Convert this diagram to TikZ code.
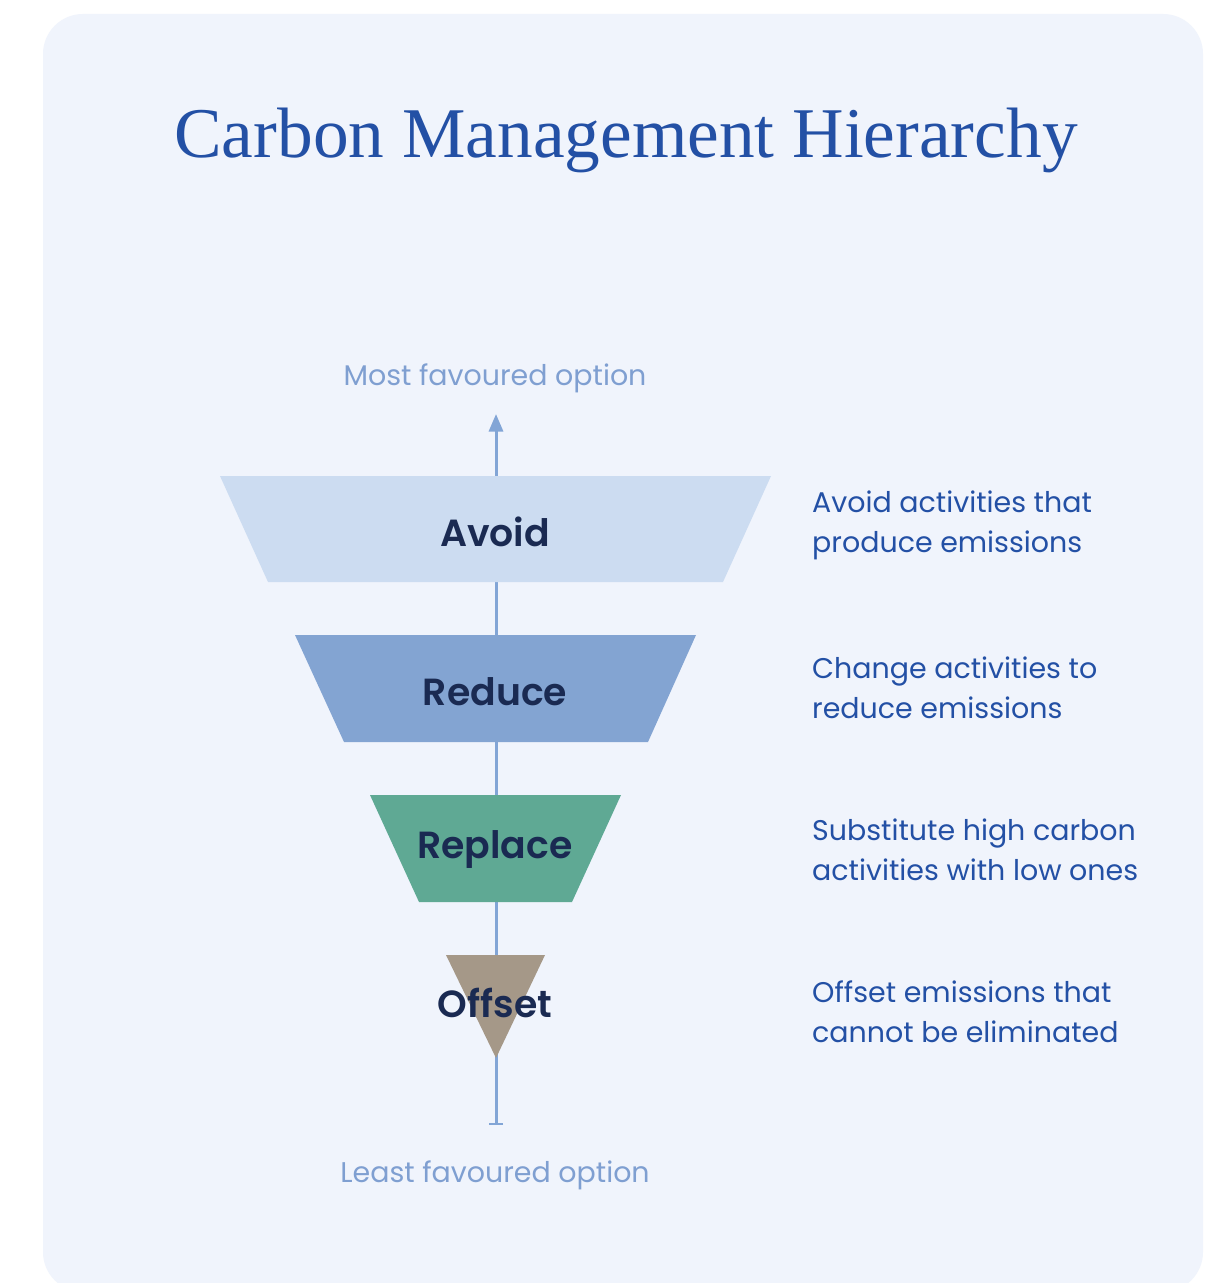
\documentclass[tikz,border=0pt]{standalone}
\usepackage{fontspec}
\setmainfont{Liberation Serif}
\setsansfont{Poppins}
\newfontfamily\namefont{Poppins SemiBold}
\usepackage{tikz}
\usetikzlibrary{arrows.meta}

\begin{document}
\begin{tikzpicture}[x=0.02cm, y=-0.02cm,
    every node/.style={font=\sffamily},
    levelname/.style={font=\namefont\fontsize{21.5}{26}\selectfont, text=labeldark},
    levelnote/.style={anchor=west, align=left, font=\sffamily\fontsize{16.2}{22.7}\selectfont, text=titleblue},
    axislabel/.style={font=\sffamily\fontsize{16.2}{18}\selectfont, text=faintblue},
    axis/.style={axisblue, line width=1.7pt}]
  % Colors
  \definecolor{panel}{RGB}{240,244,252}
  \definecolor{titleblue}{RGB}{35,80,165}
  \definecolor{faintblue}{RGB}{127,159,209}
  \definecolor{axisblue}{RGB}{130,165,214}
  \definecolor{labeldark}{RGB}{26,42,82}
  \definecolor{avoidfill}{RGB}{204,220,241}
  \definecolor{reducefill}{RGB}{131,164,210}
  \definecolor{replacefill}{RGB}{95,169,148}
  \definecolor{offsetfill}{RGB}{165,152,136}

  % Page and panel
  \useasboundingbox (0,0) rectangle (1219,1283);
  \fill[white] (0,0) rectangle (1219,1283);
  \begin{scope}
    \clip (0,0) rectangle (1219,1283);
    \fill[panel, rounded corners=0.8cm] (43,14) rectangle (1203,1292);
  \end{scope}

  % Title
  \node[font=\rmfamily\fontsize{40.6}{44}\selectfont, text=titleblue] (title) at (626,140) {Carbon Management Hierarchy};

  % Axis from least to most favoured
  \coordinate (least) at (496,1125);
  \coordinate (most) at (496,414);
  \draw[axis, {Bar[width=8pt,line width=1.4pt]}-{Triangle[length=10pt,width=8pt]}] (least) -- (most);
  \node[axislabel] (mostlabel) at (495,378) {Most favoured option};
  \node[axislabel] (leastlabel) at (495,1175) {Least favoured option};

  % Levels of the hierarchy
  \fill[avoidfill] (220,476) -- (771,476) -- (723,582) -- (268,582) -- cycle;
  \fill[reducefill] (295,635) -- (696,635) -- (648,742) -- (344,742) -- cycle;
  \fill[replacefill] (370,795) -- (621,795) -- (572,902) -- (419,902) -- cycle;
  \fill[offsetfill] (446,955) -- (545,955) -- (496,1058) -- cycle;

  \node[levelname] (avoid) at (495,532) {Avoid};
  \node[levelname] (reduce) at (495,692) {Reduce};
  \node[levelname] (replace) at (495,849) {Replace};
  \node[levelname] (offset) at (495,1003) {Offset};

  % Notes on the right
  \node[levelnote] (avoidnote) at (806,525) {Avoid activities that\\produce emissions};
  \node[levelnote] (reducenote) at (806,688) {Change activities to\\reduce emissions};
  \node[levelnote] (replacenote) at (806,850) {Substitute high carbon\\activities with low ones};
  \node[levelnote] (offsetnote) at (806,1012) {Offset emissions that\\cannot be eliminated};
\end{tikzpicture}
\end{document}
